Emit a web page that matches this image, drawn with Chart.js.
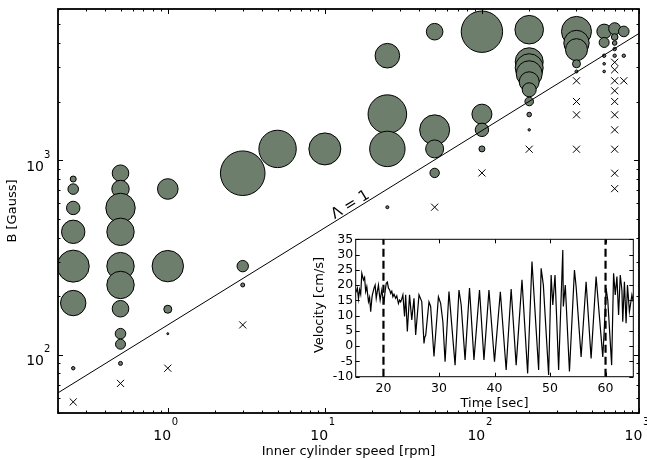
<!DOCTYPE html>
<html>
<head>
<meta charset="utf-8">
<script src="https://cdn.jsdelivr.net/npm/chart.js@4.4.0/dist/chart.umd.min.js"></script>
<style>
  html, body { margin: 0; padding: 0; background: #fff; }
  #wrap { position: relative; width: 647px; height: 460px; }
  #main { position: absolute; left: 0; top: 0; }
  #inset { position: absolute; left: 300px; top: 230px; }
</style>
</head>
<body>
<div id="wrap">
  <canvas id="main" width="647" height="460"></canvas>
  <canvas id="inset" width="345" height="185"></canvas>
</div>
<script>
// ---- main plot: field B vs inner cylinder speed ----
const circleSpeed = [
  0.25, 0.25, 0.25, 0.25, 0.25, 0.25, 0.25,
  0.5, 0.5, 0.5, 0.5, 0.5, 0.5, 0.5, 0.5, 0.5, 0.5,
  1, 1, 1, 1,
  3, 3, 3,
  5,
  10,
  25, 25, 25, 25,
  50, 50, 50, 50,
  100, 100, 100, 100,
  200, 200, 200, 200, 200, 200, 200, 200, 200,
  400, 400, 400, 400, 400,
  600, 600, 600, 600, 600,
  700, 700, 700, 700, 700,
  800, 800
];
const circleField = [
  800, 710, 568, 428, 285, 184, 85,
  857, 711, 568, 428, 285, 228, 172, 128, 113, 90,
  711, 285, 171, 128,
  857, 285, 228,
  1143,
  1143,
  3450, 1726, 1143, 573,
  4585, 1433, 1143, 860,
  4585, 1726, 1433, 1143,
  4695, 3211, 2991, 2785, 2533, 2303, 2005, 1718, 1433,
  4600, 4010, 3704, 3135, 2862,
  4600, 4035, 3449, 3135, 2862,
  4750, 4305, 4010, 3733, 3449,
  4600, 3449
];
// marker radius (px)
const circleSize = [
  3, 5.3, 6.7, 11.7, 16, 12.7, 1.7,
  8.3, 8.7, 14.7, 13.7, 13.7, 13.7, 8.3, 5.3, 5, 2,
  10.3, 15.7, 4, 1,
  22.3, 5.7, 2,
  18.7,
  16,
  12.3, 19.3, 17.7, 1.5,
  8.3, 15, 9, 4.7,
  20.7, 10, 6.7, 3,
  14.3, 14, 14, 13, 10, 7, 4.3, 2.3, 1.2,
  15, 12.7, 11, 4, 1.5,
  7.3, 5, 1.7, 1.3, 1.3,
  6, 3.3, 2.3, 1.7, 1.7,
  5.3, 1.7
];
const crossSpeed = [0.25, 0.5, 1, 3, 50, 100, 200, 400, 400, 400, 400,
  700, 700, 700, 700, 700, 700, 700, 700, 700, 700, 800];
const crossField = [57, 71, 85, 142, 573, 860, 1139, 2563, 2005, 1712, 1139,
  3190, 2920, 2563, 2276, 2005, 1712, 1433, 1139, 857, 714, 2563];
// Lambda = 1 boundary
const lineSpeed = [0.2, 1000];
const lineField = [63.5, 4490];

const speedMajor = [1, 10, 100, 1000];
const speedExp = ['0', '1', '2', '3'];
const fieldMajor = [100, 1000];
const fieldExp = ['2', '3'];

// ---- inset: velocity time series ----
const time = [15.0,15.3,15.5,15.7,15.9,16.1,16.4,16.6,16.8,17.0,
  17.3,17.5,17.7,17.9,18.0,18.3,18.5,18.7,18.9,19.1,
  19.3,19.4,19.7,19.9,20.1,20.3,20.5,20.7,20.9,21.1,
  21.3,21.5,21.7,21.9,22.2,22.4,22.7,22.9,23.1,23.3,
  23.5,23.8,24.0,24.3,24.7,25.1,25.5,25.8,26.4,26.9,
  27.3,27.45,27.6,28.2,28.5,29.1,29.9,30.3,30.7,31.1,
  31.8,32.2,32.9,33.6,34.0,34.7,35.5,36.3,37.3,38.1,
  39.0,40.0,41.05,42.1,43.0,43.9,44.95,45.97,46.75,47.95,
  48.4,48.8,49.75,50.2,50.5,50.9,51.55,52.3,52.4,52.75,
  53.5,54.4,54.7,55.6,56.5,57.4,58.3,59.5,59.75,60.1,
  60.4,60.7,61.1,61.45,61.75,62.05,62.35,62.65,62.95,63.1,
  63.4,63.7,63.95,64.3,64.75,65.0];
const velocity = [17.5,19.0,15.5,18.5,17.0,23.9,21.7,22.5,17.9,19.5,
  14.6,16.0,11.3,15.5,16.8,19.0,20.0,15.7,18.0,20.0,
  16.5,15.1,18.4,16.0,14.6,18.0,20.6,21.0,19.0,18.5,
  17.3,18.0,16.2,17.0,15.7,16.5,14.0,15.1,14.5,15.5,
  16.8,9.7,16.8,4.8,16.8,8.6,15.7,3.7,16.8,14.6,
  0.9,3.0,3.5,14.5,13.0,-3.4,16.2,14.0,8.0,-5.1,
  17.9,9.1,-6.2,18.4,13.5,-4.5,19.0,-4.5,18.4,-4.5,
  18.4,-5.1,17.8,-7.8,18.7,-6.2,21.7,-8.9,27.7,-7.8,
  25.5,20.0,-9.4,23.3,13.5,23.3,-7.8,31.5,13.0,20.0,
  -8.3,24.9,19.5,-3.5,21.1,-4.0,22.8,-3.5,4.8,18.9,
  15.1,5.9,-6.2,23.9,16.8,22.8,10.2,23.3,18.4,8.0,
  21.1,7.5,20.0,11.3,16.8,14.6];
const markTimes = [20, 60];
const timeTicks = [20, 30, 40, 50, 60];
const velocityTicks = [-10, -5, 0, 5, 10, 15, 20, 25, 30, 35];

const FONT = '"DejaVu Sans", sans-serif';

function minorsOf(decades, min, max) {
  const out = [];
  decades.forEach(d => { for (let k = 2; k <= 9; k++) { const v = k * d; if (v >= min && v <= max) out.push(v); } });
  return out;
}

function seg(ctx, x1, y1, x2, y2) {
  ctx.beginPath(); ctx.moveTo(x1, y1); ctx.lineTo(x2, y2); ctx.stroke();
}

const mainFrame = {
  id: 'mainFrame',
  afterDraw(chart) {
    const { ctx, chartArea: a, scales: { x, y } } = chart;
    ctx.save();
    ctx.strokeStyle = '#000';
    ctx.fillStyle = '#000';
    ctx.lineWidth = 1;

    const xMin = minorsOf([0.1, 1, 10, 100], x.min, x.max);
    const yMin = minorsOf([10, 100, 1000], y.min, y.max);
    xMin.forEach(v => {
      const p = Math.round(x.getPixelForValue(v)) + 0.5;
      seg(ctx, p, a.bottom, p, a.bottom - 2.5); seg(ctx, p, a.top, p, a.top + 2.5);
    });
    yMin.forEach(v => {
      const p = Math.round(y.getPixelForValue(v)) + 0.5;
      seg(ctx, a.left, p, a.left + 2.5, p); seg(ctx, a.right, p, a.right - 2.5, p);
    });
    speedMajor.forEach(v => {
      const p = Math.round(x.getPixelForValue(v)) + 0.5;
      seg(ctx, p, a.bottom, p, a.bottom - 5); seg(ctx, p, a.top, p, a.top + 5);
    });
    fieldMajor.forEach(v => {
      const p = Math.round(y.getPixelForValue(v)) + 0.5;
      seg(ctx, a.left, p, a.left + 5, p); seg(ctx, a.right, p, a.right - 5, p);
    });

    ctx.lineWidth = 1.8;
    ctx.strokeRect(a.left, a.top, a.right - a.left, a.bottom - a.top);

    // tick labels 10^n
    speedMajor.forEach((v, i) => {
      const p = x.getPixelForValue(v);
      ctx.font = '14px ' + FONT; ctx.textAlign = 'right'; ctx.textBaseline = 'alphabetic';
      ctx.fillText('10', p + 3.3, a.bottom + 27);
      ctx.font = '10px ' + FONT; ctx.textAlign = 'left';
      ctx.fillText(speedExp[i], p + 4, a.bottom + 12);
    });
    fieldMajor.forEach((v, i) => {
      const p = y.getPixelForValue(v);
      ctx.font = '14px ' + FONT; ctx.textAlign = 'right'; ctx.textBaseline = 'alphabetic';
      ctx.fillText('10', a.left - 14, p + 10.5);
      ctx.font = '10px ' + FONT; ctx.textAlign = 'left';
      ctx.fillText(fieldExp[i], a.left - 14, p - 2.5);
    });

    // axis titles
    ctx.font = '13px ' + FONT; ctx.textAlign = 'center'; ctx.textBaseline = 'alphabetic';
    ctx.fillText('Inner cylinder speed [rpm]', (a.left + a.right) / 2, 454.5);
    ctx.save();
    ctx.translate(16, (a.top + a.bottom) / 2);
    ctx.rotate(-Math.PI / 2);
    ctx.fillText('B [Gauss]', 0, 0);
    ctx.restore();

    // Lambda = 1 annotation along the boundary line
    const pts = chart.getDatasetMeta(0).data;
    const p0 = pts[0], p1 = pts[1];
    const ang = Math.atan2(p1.y - p0.y, p1.x - p0.x);
    const f = 0.478;
    const tx = p0.x + (p1.x - p0.x) * f, ty = p0.y + (p1.y - p0.y) * f;
    ctx.save();
    ctx.translate(tx, ty);
    ctx.rotate(ang);
    ctx.font = '15px ' + FONT; ctx.textAlign = 'left'; ctx.textBaseline = 'alphabetic';
    ctx.fillText('\u039B = 1', 0, -2);
    ctx.restore();

    ctx.restore();
  }
};

new Chart(document.getElementById('main'), {
  type: 'scatter',
  data: {
    datasets: [
      {
        type: 'line',
        label: 'Lambda = 1',
        data: lineSpeed.map((v, i) => ({ x: v, y: lineField[i] })),
        borderColor: '#000',
        borderWidth: 1,
        pointRadius: 0,
        fill: false,
        order: 0
      },
      {
        type: 'bubble',
        label: 'circles',
        data: circleSpeed.map((v, i) => ({ x: v, y: circleField[i], r: circleSize[i] })),
        backgroundColor: '#6e7e6c',
        borderColor: '#000',
        borderWidth: 1,
        order: 2
      },
      {
        type: 'scatter',
        label: 'crosses',
        data: crossSpeed.map((v, i) => ({ x: v, y: crossField[i] })),
        pointStyle: 'crossRot',
        pointRadius: 5,
        borderColor: '#000',
        borderWidth: 1,
        order: 1
      }
    ]
  },
  options: {
    responsive: false,
    animation: false,
    events: [],
    layout: { autoPadding: false, padding: { left: 58, top: 9, right: 8, bottom: 47 } },
    scales: {
      x: { type: 'logarithmic', min: 0.2, max: 1000, display: false },
      y: { type: 'logarithmic', min: 50, max: 6000, display: false }
    },
    plugins: { legend: { display: false }, tooltip: { enabled: false } }
  },
  plugins: [mainFrame]
});

const insetFrame = {
  id: 'insetFrame',
  beforeDraw(chart) {
    const { ctx, chartArea: a } = chart;
    ctx.save();
    ctx.fillStyle = '#fff';
    ctx.fillRect(a.left, a.top, a.right - a.left, a.bottom - a.top);
    ctx.restore();
  },
  afterDraw(chart) {
    const { ctx, chartArea: a, scales: { x, y } } = chart;
    ctx.save();
    ctx.strokeStyle = '#000';
    ctx.fillStyle = '#000';
    ctx.lineWidth = 1;
    timeTicks.forEach(v => {
      const p = Math.round(x.getPixelForValue(v)) + 0.5;
      seg(ctx, p, a.bottom, p, a.bottom - 4); seg(ctx, p, a.top, p, a.top + 4);
    });
    velocityTicks.forEach(v => {
      const p = Math.round(y.getPixelForValue(v)) + 0.5;
      seg(ctx, a.left, p, a.left + 4, p); seg(ctx, a.right, p, a.right - 4, p);
    });
    ctx.strokeRect(a.left, a.top, a.right - a.left, a.bottom - a.top);

    ctx.font = '12.5px ' + FONT;
    ctx.textAlign = 'center'; ctx.textBaseline = 'alphabetic';
    timeTicks.forEach(v => ctx.fillText(String(v), x.getPixelForValue(v), a.bottom + 15));
    ctx.textAlign = 'right'; ctx.textBaseline = 'middle';
    velocityTicks.forEach(v => ctx.fillText(String(v), a.left - 2.5, y.getPixelForValue(v)));

    ctx.font = '13px ' + FONT;
    ctx.textAlign = 'center'; ctx.textBaseline = 'alphabetic';
    ctx.fillText('Time [sec]', (a.left + a.right) / 2, 176.5);
    ctx.save();
    ctx.translate(23, 75);
    ctx.rotate(-Math.PI / 2);
    ctx.fillText('Velocity [cm/s]', 0, 0);
    ctx.restore();
    ctx.restore();
  }
};

new Chart(document.getElementById('inset'), {
  type: 'line',
  data: {
    datasets: [
      {
        label: 'velocity',
        data: time.map((t, i) => ({ x: t, y: velocity[i] })),
        borderColor: '#000',
        borderWidth: 1.2,
        pointRadius: 0,
        fill: false,
        order: 1
      },
      ...markTimes.map(t => ({
        label: 'mark',
        data: [{ x: t, y: -10 }, { x: t, y: 35 }],
        borderColor: '#000',
        borderWidth: 2.2,
        borderDash: [8, 4],
        pointRadius: 0,
        fill: false,
        order: 0
      }))
    ]
  },
  options: {
    responsive: false,
    animation: false,
    events: [],
    layout: { autoPadding: false, padding: { left: 55.7, top: 9.3, right: 11.7, bottom: 38.3 } },
    scales: {
      x: { type: 'linear', min: 15, max: 65, display: false },
      y: { type: 'linear', min: -10, max: 35, display: false }
    },
    plugins: { legend: { display: false }, tooltip: { enabled: false } }
  },
  plugins: [insetFrame]
});
</script>
</body>
</html>
